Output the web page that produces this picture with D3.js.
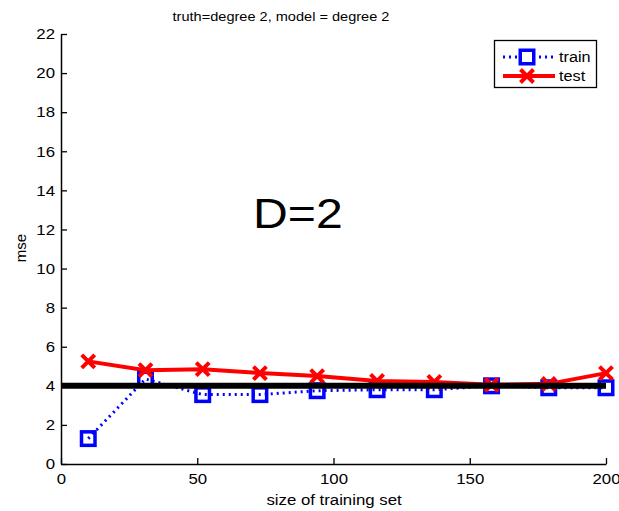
<!DOCTYPE html>
<html>
<head>
<meta charset="utf-8">
<script src="https://cdn.jsdelivr.net/npm/d3@7/dist/d3.min.js"></script>
<style>
  html, body { margin: 0; padding: 0; background: #fff; }
  svg { display: block; font-family: Arial, "Liberation Sans", Helvetica, sans-serif; }
</style>
</head>
<body>
<svg id="chart" width="619" height="511"></svg>
<script>
// Learning curve: mse against training set size
const trainSizes = [10, 31, 52, 73, 94, 116, 137, 158, 179, 200];
const trainMse   = [1.3, 4.35, 3.55, 3.55, 3.75, 3.8, 3.8, 4.0, 3.9, 3.9];
const testMse    = [5.25, 4.8, 4.85, 4.65, 4.5, 4.25, 4.2, 4.05, 4.1, 4.65];
const noiseLevel = 4;
const xTicks = [0, 50, 100, 150, 200];
const yTicks = [0, 2, 4, 6, 8, 10, 12, 14, 16, 18, 20, 22];

// glyphs are drawn slightly wide, as in the exported figure
const STRETCH = 1.12;

const svg = d3.select("#chart");
const x = d3.scaleLinear().domain([0, 200]).range([61, 606]);
const y = d3.scaleLinear().domain([0, 22]).range([464, 34]);

// axes, MATLAB style with inward ticks
const xAxis = svg.append("g")
  .attr("transform", `translate(0,${y(0)})`)
  .call(d3.axisBottom(x).tickValues(xTicks).tickSizeInner(-6).tickSizeOuter(0).tickPadding(9));
const yAxis = svg.append("g")
  .attr("transform", `translate(${x(0)},0)`)
  .call(d3.axisLeft(y).tickValues(yTicks).tickSizeInner(-6).tickSizeOuter(0).tickPadding(6));
[xAxis, yAxis].forEach(g => {
  g.selectAll("path.domain").attr("stroke", "#000").attr("stroke-width", 1.5);
  g.selectAll(".tick line").attr("stroke", "#000").attr("stroke-width", 1.3);
  g.selectAll(".tick text").attr("fill", "#000").attr("font-size", 15)
    .attr("font-family", "Arial, 'Liberation Sans', sans-serif")
    .attr("transform", `scale(${STRETCH},1)`)
    .each(function () {
      const t = d3.select(this);
      const xv = +t.attr("x") || 0;
      t.attr("x", xv / STRETCH);
    });
});

const pts = (vals) => trainSizes.map((s, i) => [s, vals[i]]);
const line = d3.line().x(d => x(d[0])).y(d => y(d[1]));

// train series: dotted blue with open squares
svg.append("path")
  .attr("d", line(pts(trainMse)))
  .attr("fill", "none").attr("stroke", "#0000ff")
  .attr("stroke-width", 3).attr("stroke-dasharray", "2,4");
const sq = 13.5;
svg.append("g").selectAll("rect").data(pts(trainMse)).join("rect")
  .attr("x", d => x(d[0]) - sq / 2).attr("y", d => y(d[1]) - sq / 2)
  .attr("width", sq).attr("height", sq)
  .attr("fill", "none").attr("stroke", "#0000ff").attr("stroke-width", 3.5);

// test series: solid red with crosses
svg.append("path")
  .attr("d", line(pts(testMse)))
  .attr("fill", "none").attr("stroke", "#ff0000").attr("stroke-width", 4);
const cr = 6.5;
const crossPath = (cx, cy) =>
  `M${cx - cr},${cy - cr}L${cx + cr},${cy + cr}M${cx - cr},${cy + cr}L${cx + cr},${cy - cr}`;
svg.append("g").selectAll("path").data(pts(testMse)).join("path")
  .attr("d", d => crossPath(x(d[0]), y(d[1])))
  .attr("fill", "none").attr("stroke", "#ff0000").attr("stroke-width", 4);

// noise floor
svg.append("line")
  .attr("x1", x(0)).attr("x2", x(200))
  .attr("y1", y(noiseLevel)).attr("y2", y(noiseLevel))
  .attr("stroke", "#000").attr("stroke-width", 6);

// text helper: places a horizontally widened label
function label(px, py, str, size, anchor, rotate) {
  const rot = rotate ? ` rotate(${rotate})` : "";
  const sc = rotate ? `scale(1,1)` : `scale(${STRETCH},1)`;
  return svg.append("text")
    .attr("transform", `translate(${px},${py})${rot} ${sc}`)
    .attr("text-anchor", anchor || "start")
    .attr("font-size", size)
    .attr("fill", "#000")
    .text(str);
}

// legend
const lg = svg.append("g");
lg.append("rect").attr("x", 494.5).attr("y", 40.5).attr("width", 102).attr("height", 47)
  .attr("fill", "#fff").attr("stroke", "#000").attr("stroke-width", 1.3);
lg.append("line").attr("x1", 503).attr("x2", 555).attr("y1", 57).attr("y2", 57)
  .attr("stroke", "#0000ff").attr("stroke-width", 3).attr("stroke-dasharray", "2,4");
lg.append("rect").attr("x", 527 - sq / 2).attr("y", 57 - sq / 2).attr("width", sq).attr("height", sq)
  .attr("fill", "#fff").attr("stroke", "#0000ff").attr("stroke-width", 3.5);
lg.append("line").attr("x1", 503).attr("x2", 555).attr("y1", 76).attr("y2", 76)
  .attr("stroke", "#ff0000").attr("stroke-width", 4);
lg.append("path").attr("d", crossPath(527, 76))
  .attr("fill", "none").attr("stroke", "#ff0000").attr("stroke-width", 4);
label(559, 62, "train", 14.5);
label(559, 81, "test", 14.5);

// titles and labels
label(281, 21, "truth=degree 2, model = degree 2", 13, "middle");
label(334, 505, "size of training set", 15, "middle");
label(26, 248, "mse", 15, "middle", -90);
label(253, 228, "D=2", 43);
</script>
</body>
</html>
